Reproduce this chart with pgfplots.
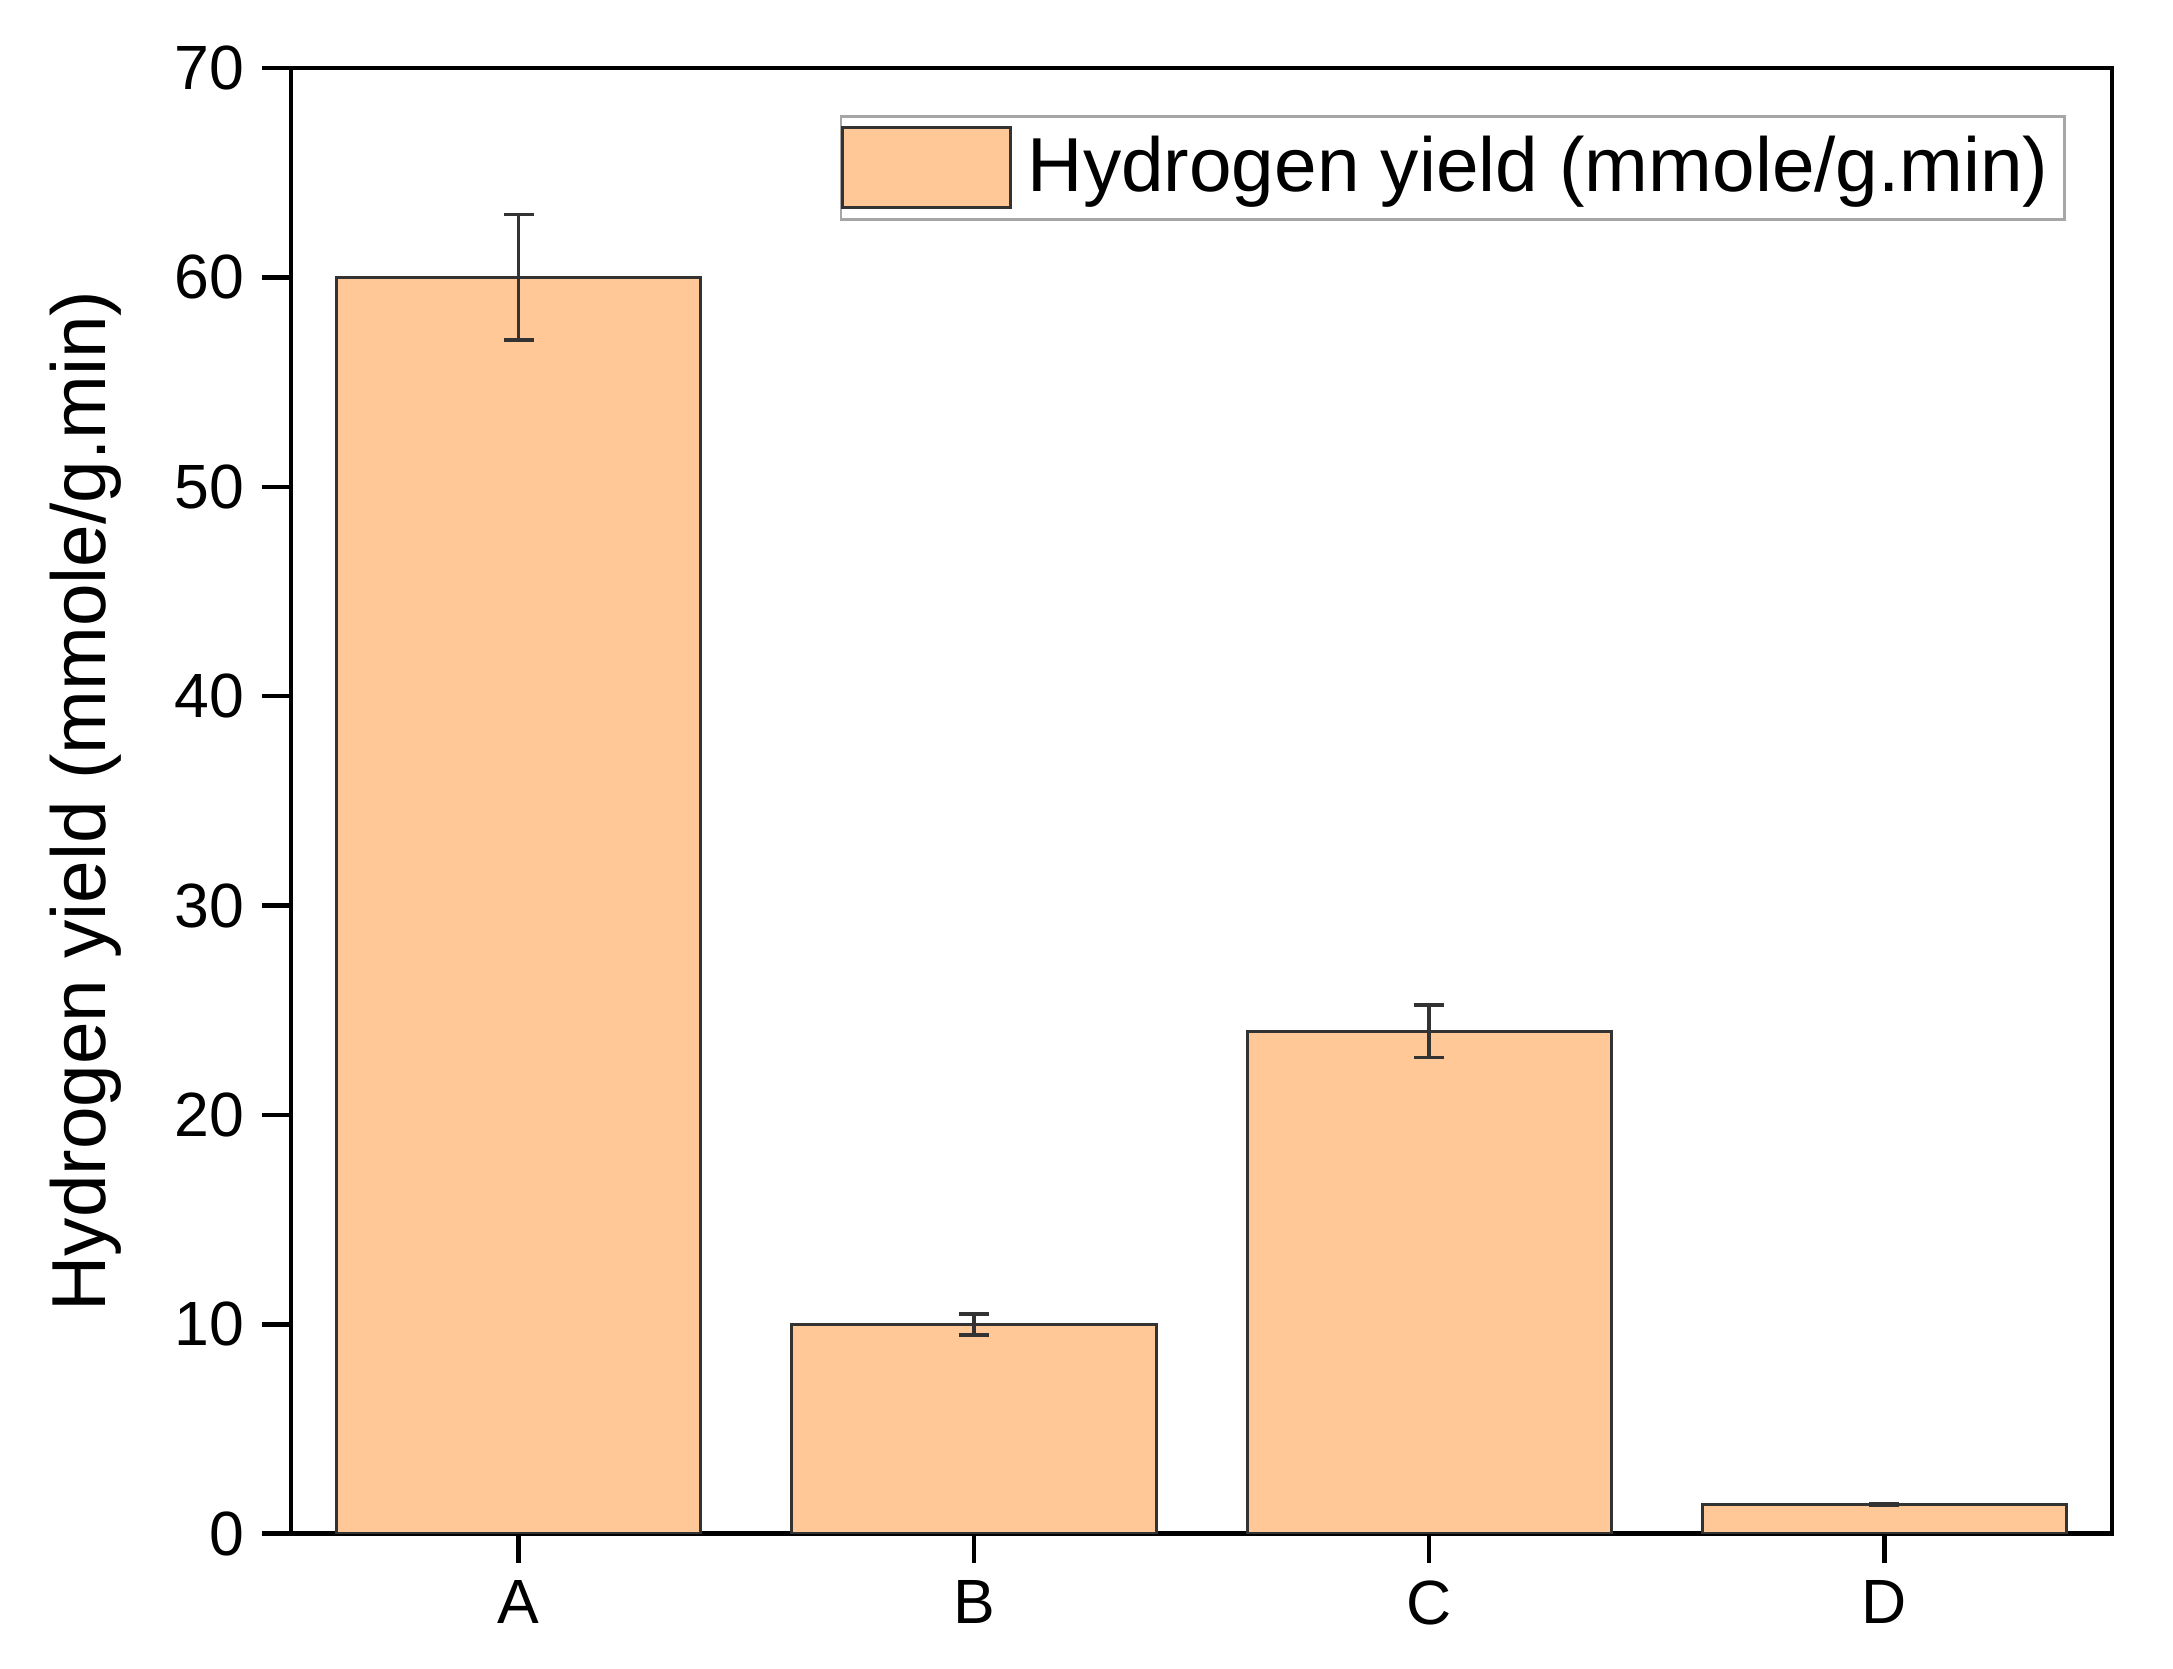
\documentclass[border=0pt]{standalone}
\usepackage{pgfplots}
\pgfplotsset{compat=1.18}
\usepackage{fontspec}
\setmainfont{Liberation Sans}

\definecolor{barfill}{RGB}{255,200,150}

\begin{document}
\begin{tikzpicture}
\begin{axis}[
    width=364pt, height=293pt, scale only axis,
    ybar, bar width=0.8,
    xmin=-0.5, xmax=3.5, ymin=0, ymax=70,
    xtick=data, xticklabels={A,B,C,D},
    ytick={0,10,...,70},
    tick align=outside, tick pos=left,
    major tick length=5.8pt,
    axis line style={line width=0.9pt},
    every tick/.style={line width=0.9pt, black},
    /pgf/number format/assume math mode=true,
    tick label style={font=\fontsize{12.5}{14}\selectfont},
    ylabel={Hydrogen yield (mmole/g.min)},
    every axis y label/.style={at={(axis description cs:0,0.5)}, xshift=-41pt,
        rotate=90, anchor=center, font=\fontsize{15.3}{18}\selectfont},
    legend style={at={(1,1)}, xshift=-9.2pt, yshift=-9.4pt, anchor=north east,
        draw=gray!70, line width=0.5pt, inner xsep=0pt, inner ysep=2pt,
        font=\fontsize{15.3}{18}\selectfont,
        legend cell align=left,
        nodes={inner xsep=3.2pt}},
    legend image code/.code={\draw[#1, line width=0.6pt] (0pt,-8pt) rectangle (33.6pt,8pt);},
]
\addplot[fill=barfill, draw=black!80, line width=0.6pt,
    error bars/.cd, y dir=both, y explicit,
    error bar style={line width=0.7pt, black!80},
    error mark options={rotate=90, mark size=3pt, line width=0.7pt, black!80}]
    coordinates {(0,60) +- (0,3) (1,10) +- (0,0.5) (2,24) +- (0,1.25) (3,1.4) +- (0,0.05)};
\legend{Hydrogen yield (mmole/g.min)}
\end{axis}
\path (current axis.south west) ++(-58.2pt,-27pt) coordinate (bbA);
\path (current axis.north east) ++(12.2pt,13.6pt) coordinate (bbB);
\path[use as bounding box] (bbA) rectangle (bbB);
\end{tikzpicture}
\end{document}
